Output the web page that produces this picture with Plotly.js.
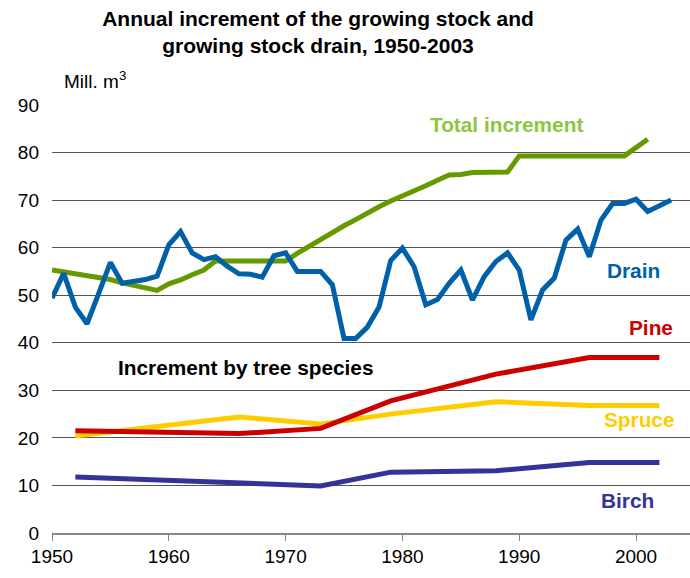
<!DOCTYPE html>
<html>
<head>
<meta charset="utf-8">
<script src="https://cdn.plot.ly/plotly-3.0.1.min.js"></script>
<style>
html, body { margin: 0; padding: 0; background: #fff; }
#chart { width: 690px; height: 578px; }
</style>
</head>
<body>
<div id="chart"></div>
<script>
// ---- Data ----
const drainYears = [1950,1951,1952,1953,1954,1955,1956,1957,1958,1959,
  1960,1961,1962,1963,1964,1965,1966,1967,1968,1969,
  1970,1971,1972,1973,1974,1975,1976,1977,1978,1979,
  1980,1981,1982,1983,1984,1985,1986,1987,1988,1989,
  1990,1991,1992,1993,1994,1995,1996,1997,1998,1999,
  2000,2001,2002,2003];
const drainValues = [49.4,54.6,47.5,44.0,50.4,56.9,52.5,52.9,53.3,54.0,
  60.6,63.4,58.9,57.5,58.1,56.1,54.5,54.4,53.8,58.3,
  58.9,55.0,55.0,55.0,52.2,40.9,40.9,43.3,47.5,57.3,
  59.9,56.0,48.0,49.1,52.5,55.3,49.0,53.9,57.1,58.9,
  55.3,44.8,51.1,53.6,61.6,63.9,58.1,65.8,69.3,69.3,
  70.2,67.6,68.8,70.0];

const totalYears = [1950,1955,1956,1959,1960,1961,1962,1963,1964,1970,
  1971,1972,1973,1974,1975,1976,1977,1978,1979,1980,
  1981,1982,1983,1984,1985,1986,1989,1990,1999,2000,2001];
const totalValues = [55.3,53.3,52.6,51.0,52.4,53.2,54.3,55.3,57.2,57.2,
  58.8,60.3,61.8,63.3,64.6,65.9,67.4,68.6,69.8,70.8,
  71.8,73.0,74.2,75.3,75.4,75.8,75.9,79.3,79.3,81.0,82.8];

const speciesYears = [1952,1966,1973,1979,1988,1996,2002];
const pineValues   = [21.5,20.9,22.0,27.8,33.4,36.9,36.9];
const spruceValues = [20.4,24.4,22.9,25.0,27.6,26.8,26.8];
const birchValues  = [11.8,10.6,9.9,12.8,13.1,14.8,14.8];

const xTickValues = [1950,1960,1970,1980,1990,2000];
const yTickValues = [0,10,20,30,40,50,60,70,80,90];

// ---- Styles ----
const FONT = '"Liberation Sans", Arial, sans-serif';
const C = {
  total: '#669900', totalText: '#8CC63F',
  drain: '#0061A8', pine: '#CC0000', spruce: '#FFCC00', birch: '#333399'
};
const LW = 5;

function line(x, y, color, name) {
  return { type: 'scatter', mode: 'lines', x: x, y: y, name: name,
    line: { color: color, width: LW, shape: 'linear' }, hoverinfo: 'x+y+name' };
}

const traces = [
  line(speciesYears, birchValues, C.birch, 'Birch'),
  line(speciesYears, spruceValues, C.spruce, 'Spruce'),
  line(speciesYears, pineValues, C.pine, 'Pine'),
  line(totalYears, totalValues, C.total, 'Total increment'),
  line(drainYears, drainValues, C.drain, 'Drain')
];

function lab(text, x, y, color) {
  return { text: text, x: x, y: y, xref: 'x', yref: 'y', showarrow: false,
    xanchor: 'center', yanchor: 'middle',
    font: { family: FONT, size: 20.8, color: color, weight: 'bold' } };
}

const layout = {
  width: 690, height: 578,
  margin: { l: 52, r: 0, t: 105, b: 45 },
  paper_bgcolor: '#ffffff', plot_bgcolor: '#ffffff',
  showlegend: false,
  font: { family: FONT, size: 20, color: '#000' },
  title: {
    text: '<b>Annual increment of the growing stock and<br>growing stock drain, 1950-2003</b>',
    font: { family: FONT, size: 21, color: '#000' },
    x: 318 / 690, xref: 'container', xanchor: 'center',
    y: 1 - 26 / 578, yref: 'container', yanchor: 'middle'
  },
  xaxis: {
    range: [1950, 2004.62],
    tickvals: xTickValues, ticktext: xTickValues.map(String),
    showgrid: false, zeroline: false,
    showline: true, linecolor: '#888888', linewidth: 1.5,
    ticks: 'outside', ticklen: 6, tickcolor: '#888888', tickwidth: 1,
    tickfont: { family: FONT, size: 19, color: '#000' },
    fixedrange: true
  },
  yaxis: {
    range: [0, 90],
    tickvals: yTickValues, ticktext: yTickValues.map(String),
    showgrid: true, gridcolor: '#555555', gridwidth: 1,
    zeroline: false, showline: false, ticks: '',
    ticklabelstandoff: 12,
    tickfont: { family: FONT, size: 19, color: '#000' },
    fixedrange: true
  },
  annotations: [
    { text: 'Mill. m<sup>3</sup>', x: (62 - 52) / 638, y: (533 - 80) / 428,
      xref: 'paper', yref: 'paper', xanchor: 'left', yanchor: 'middle', showarrow: false,
      font: { family: FONT, size: 19, color: '#000' } },
    lab('Total increment', 1988.9, 85.8, C.totalText),
    lab('Drain', 1999.8, 55.3, C.drain),
    lab('Pine', 2001.3, 43.3, C.pine),
    lab('Increment by tree species', 1966.6, 34.7, '#000'),
    lab('Spruce', 2000.3, 23.8, C.spruce),
    lab('Birch', 1999.3, 6.9, C.birch)
  ]
};

Plotly.newPlot('chart', traces, layout, { staticPlot: true, displayModeBar: false });
</script>
</body>
</html>
